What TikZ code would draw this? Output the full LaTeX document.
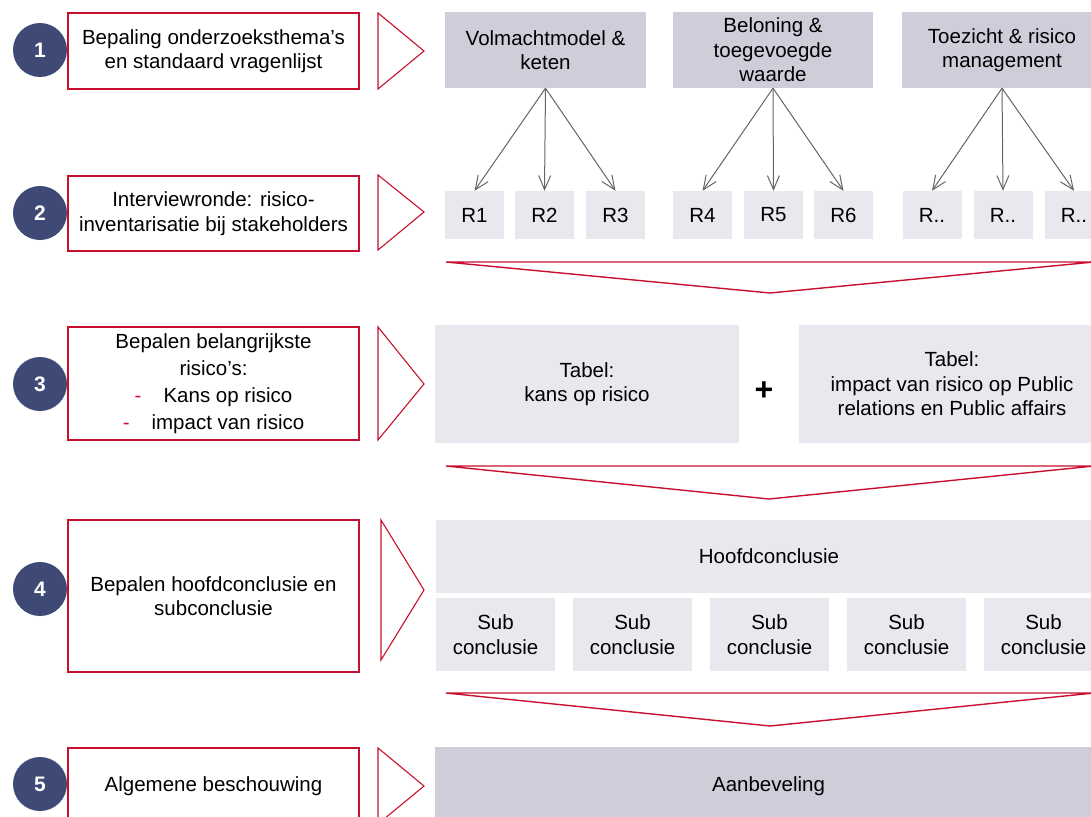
\documentclass[tikz,border=0pt]{standalone}
\usepackage{fontspec}
\setmainfont{Liberation Sans}
\usetikzlibrary{arrows.meta}
\definecolor{myred}{RGB}{200,16,46}
\definecolor{navy}{RGB}{62,74,117}
\definecolor{darkbox}{RGB}{205,206,218}
\definecolor{lightbox}{RGB}{232,232,238}
\definecolor{arrowgray}{RGB}{100,100,100}
\begin{document}
\begin{tikzpicture}[x=1pt,y=-1pt,
  every node/.style={font=\fontsize{20.5}{24.5}\selectfont, inner sep=0pt, align=center, text=black},
  numcircle/.style={circle, fill=navy, minimum size=54pt, text=white, font=\fontsize{21}{24}\selectfont\bfseries},
  stepbox/.style={draw=myred, line width=1.1pt, minimum width=291pt},
  steptri/.style={draw=myred, line width=1.1pt, line join=miter},
  chev/.style={draw=myred, line width=1.4pt, line join=miter},
  darkbx/.style={fill=darkbox, minimum height=76pt},
  lightbx/.style={fill=lightbox},
  rbox/.style={fill=lightbox, minimum width=59pt, minimum height=48pt},
  subbox/.style={fill=lightbox, minimum width=119pt, minimum height=73pt},
  garrow/.style={draw=arrowgray, line width=1pt, -{Straight Barb[length=14pt,width=12pt,line width=1pt]}}
]
\useasboundingbox (0,0) rectangle (1091,816);
\clip (0,0) rectangle (1091,816);

% ---------- Row 1 ----------
\node[numcircle] (c1) at (40,50) {1};
\node[stepbox, minimum height=76pt] (b1) at (213.5,51) {Bepaling onderzoeksthema’s\\en standaard vragenlijst};
\draw[steptri] (378,13) -- (424,51) -- (378,89) -- cycle;

\node[darkbx, minimum width=201pt] (g1) at (545.5,50) {Volmachtmodel \&\\keten};
\node[darkbx, minimum width=200pt] (g2) at (773,50) {Beloning \&\\toegevoegde\\waarde};
\node[darkbx, minimum width=200pt] (g3) at (1002,50) {Toezicht \& risico\\management};

% ---------- Row 2 ----------
\node[numcircle] (c2) at (40,213) {2};
\node[stepbox, minimum height=75pt] (b2) at (213.5,213.5) {Interviewronde: risico-\\inventarisatie bij stakeholders};
\draw[steptri] (378,175) -- (424,212) -- (378,250) -- cycle;

\node[rbox] (r1) at (474.5,215) {R1};
\node[rbox] (r2) at (544.5,215) {R2};
\node[rbox] (r3) at (615.5,215) {R3};
\node[rbox] (r4) at (702.5,215) {R4};
\node[rbox] (r5) at (773.5,215) {R5};
\node[rbox] (r6) at (843.5,215) {R6};
\node[rbox] (r7) at (932,215) {R..};
\node[rbox] (r8) at (1003,215) {R..};
\node[rbox] (r9) at (1074,215) {R..};

\draw[garrow] (g1.south) -- (r1.north);
\draw[garrow] (g1.south) -- (r2.north);
\draw[garrow] (g1.south) -- (r3.north);
\draw[garrow] (g2.south) -- (r4.north);
\draw[garrow] (g2.south) -- (r5.north);
\draw[garrow] (g2.south) -- (r6.north);
\draw[garrow] (g3.south) -- (r7.north);
\draw[garrow] (g3.south) -- (r8.north);
\draw[garrow] (g3.south) -- (r9.north);

\draw[chev] (446,262) -- (1094,262) -- (770,293) -- cycle;

% ---------- Row 3 ----------
\node[numcircle] (c3) at (40,384) {3};
\node[stepbox, minimum height=113pt, font=\fontsize{20.5}{27}\selectfont] (b3) at (213.5,383.5)
  {Bepalen belangrijkste\\risico’s:\\{\color{myred}-}\hspace{22pt}Kans op risico\\{\color{myred}-}\hspace{22pt}impact van risico};
\draw[steptri] (378,327) -- (424,384) -- (378,440) -- cycle;

\node[lightbx, minimum width=304pt, minimum height=118pt] (tab1) at (587,384) {Tabel:\\kans op risico};
\node[font=\fontsize{32}{32}\selectfont\bfseries] (plus) at (764,391) {+};
\node[lightbx, minimum width=306pt, minimum height=118pt] (tab2) at (952,384) {Tabel:\\impact van risico op Public\\relations en Public affairs};

\draw[chev] (446,466) -- (1094,466) -- (769,499) -- cycle;

% ---------- Row 4 ----------
\node[numcircle] (c4) at (40,589) {4};
\node[stepbox, minimum height=152pt] (b4) at (213.5,596) {Bepalen hoofdconclusie en\\subconclusie};
\draw[steptri] (381,520) -- (424,590) -- (381,660) -- cycle;

\node[lightbx, minimum width=666pt, minimum height=73pt] (hoofd) at (769,556.5) {Hoofdconclusie};
\node[subbox] (s1) at (495.5,634.5) {Sub\\conclusie};
\node[subbox] (s2) at (632.5,634.5) {Sub\\conclusie};
\node[subbox] (s3) at (769.5,634.5) {Sub\\conclusie};
\node[subbox] (s4) at (906.5,634.5) {Sub\\conclusie};
\node[subbox] (s5) at (1043.5,634.5) {Sub\\conclusie};

\draw[chev] (446,693) -- (1094,693) -- (770,726) -- cycle;

% ---------- Row 5 ----------
\node[numcircle] (c5) at (40,784) {5};
\node[stepbox, minimum height=76pt] (b5) at (213.5,786) {Algemene beschouwing};
\draw[steptri] (378,748) -- (424,786) -- (378,824) -- cycle;

\node[fill=darkbox, minimum width=667pt, minimum height=78pt] (aanb) at (768.5,786) {Aanbeveling};
\end{tikzpicture}
\end{document}
